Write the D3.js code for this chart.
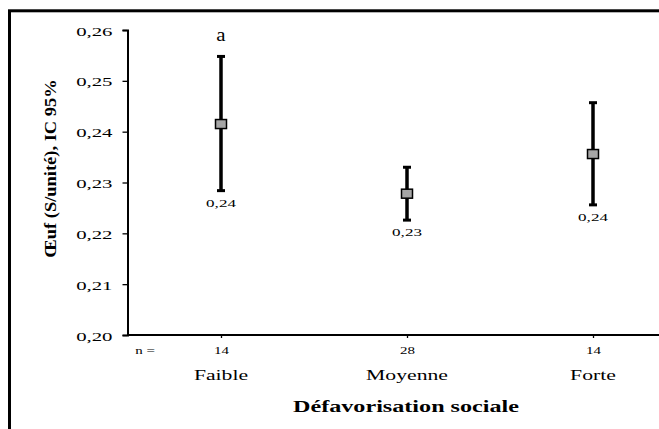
<!DOCTYPE html>
<html>
<head>
<meta charset="utf-8">
<script src="https://cdn.jsdelivr.net/npm/d3@7"></script>
<style>
  body { margin: 0; background: #fff; }
  svg text { font-family: "Liberation Serif", "Times New Roman", "DejaVu Serif", serif; fill: #000; }
</style>
</head>
<body>
<svg id="chart" width="659" height="429"></svg>
<script>
// data
const categories = ['Faible', 'Moyenne', 'Forte'];
const counts = [14, 28, 14];
const means = [0.2415, 0.2278, 0.2356];
const lowers = [0.2284, 0.2226, 0.2256];
const uppers = [0.2548, 0.2330, 0.2457];
const meanLabels = ['0,24', '0,23', '0,24'];
const letters = ['a', '', ''];
const yTicks = [0.20, 0.21, 0.22, 0.23, 0.24, 0.25, 0.26];

const serif = '"Liberation Serif", "Times New Roman", serif';
const svg = d3.select('#chart');

// text in the reference is drawn wide, so stretch it horizontally
function wideText(sel, x, y, sx) {
  return sel.attr('transform', `translate(${x},${y}) scale(${sx},1)`);
}

// outer frame
svg.append('rect')
  .attr('x', 9.5).attr('y', 10.8)
  .attr('width', 660).attr('height', 430)
  .attr('fill', 'none').attr('stroke', '#000').attr('stroke-width', 3);

const x = d3.scalePoint()
  .domain(categories)
  .range([128, 686])
  .padding(0.5);

const y = d3.scaleLinear()
  .domain([0.20, 0.26])
  .range([335, 30]);

const fmt = d => d3.format('.2f')(d).replace('.', ',');

// y axis
const yAxis = svg.append('g')
  .attr('transform', 'translate(127.5,0)')
  .call(d3.axisLeft(y).tickValues(yTicks).tickFormat(fmt).tickSize(5));
yAxis.select('.domain').attr('stroke-width', 2);
yAxis.selectAll('line').attr('stroke-width', 1.3);
yAxis.selectAll('text')
  .attr('font-family', serif).attr('font-size', 13)
  .attr('x', null).attr('dy', null)
  .attr('transform', 'translate(-15,5) scale(1.6,1)');

// x axis, tick labels are the group sizes
const xAxis = svg.append('g')
  .attr('transform', 'translate(0,335)')
  .call(d3.axisBottom(x).tickSize(3).tickSizeOuter(0).tickFormat((d, i) => counts[i]));
xAxis.select('.domain').attr('d', 'M127.5,0H659').attr('stroke-width', 2);
xAxis.selectAll('line').attr('stroke-width', 1.3);
xAxis.selectAll('text')
  .attr('font-family', serif).attr('font-size', 10)
  .attr('y', null).attr('dy', null)
  .attr('transform', 'translate(0,19) scale(1.5,1)');

wideText(svg.append('text'), 145, 354, 1.5)
  .attr('text-anchor', 'middle').attr('font-size', 10)
  .text('n =');

// category labels
svg.selectAll('.cat')
  .data(categories)
  .enter().append('text')
  .attr('class', 'cat')
  .each(function(d) { wideText(d3.select(this), x(d), 380, 1.55); })
  .attr('text-anchor', 'middle').attr('font-size', 14)
  .text(d => d);

// axis titles
wideText(svg.append('text'), 406, 412, 1.38)
  .attr('text-anchor', 'middle').attr('font-size', 17.5).attr('font-weight', 'bold')
  .text('Défavorisation sociale');

svg.append('text')
  .attr('transform', 'translate(56,168.5) rotate(-90) scale(1.12,1)')
  .attr('text-anchor', 'middle').attr('font-size', 16.5).attr('font-weight', 'bold')
  .text('Œuf (S/unité), IC 95%');

// error bars
const rows = categories.map((c, i) => ({
  c, mean: means[i], lo: lowers[i], hi: uppers[i], label: meanLabels[i], letter: letters[i]
}));

const g = svg.selectAll('.bar').data(rows).enter().append('g').attr('class', 'bar');

g.append('line')
  .attr('x1', d => x(d.c)).attr('x2', d => x(d.c))
  .attr('y1', d => y(d.hi)).attr('y2', d => y(d.lo))
  .attr('stroke', '#000').attr('stroke-width', 3.5);

g.selectAll('.cap')
  .data(d => [{ c: d.c, v: d.hi }, { c: d.c, v: d.lo }])
  .enter().append('line')
  .attr('class', 'cap')
  .attr('x1', d => x(d.c) - 4).attr('x2', d => x(d.c) + 4)
  .attr('y1', d => y(d.v)).attr('y2', d => y(d.v))
  .attr('stroke', '#000').attr('stroke-width', 3);

g.append('rect')
  .attr('x', d => x(d.c) - 5.5).attr('y', d => y(d.mean) - 4.5)
  .attr('width', 11).attr('height', 9)
  .attr('fill', '#a6a6a6').attr('stroke', '#000').attr('stroke-width', 1.5);

g.append('text')
  .each(function(d) { wideText(d3.select(this), x(d.c), y(d.lo) + 16, 1.55); })
  .attr('text-anchor', 'middle').attr('font-size', 11)
  .text(d => d.label);

g.append('text')
  .each(function(d) { wideText(d3.select(this), x(d.c), y(d.hi) - 15, 1.1); })
  .attr('text-anchor', 'middle').attr('font-size', 19)
  .text(d => d.letter);
</script>
</body>
</html>
